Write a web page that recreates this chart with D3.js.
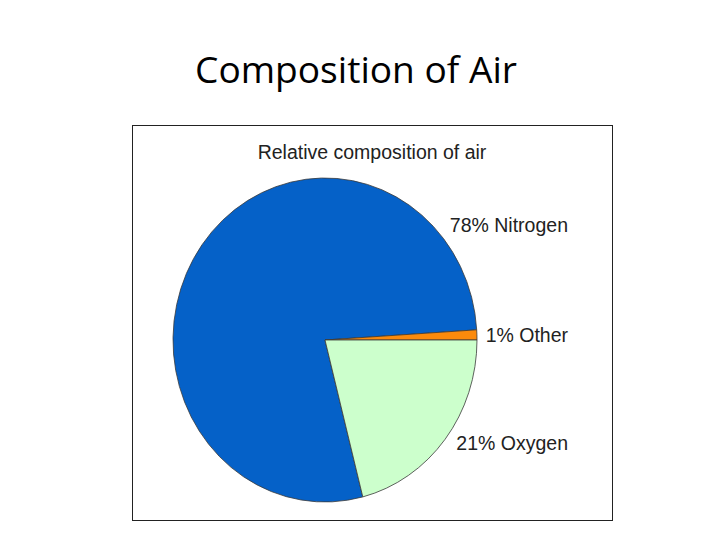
<!DOCTYPE html>
<html>
<head>
<meta charset="utf-8">
<script src="https://cdn.jsdelivr.net/npm/d3@7"></script>
<style>
  html, body { margin: 0; padding: 0; background: #fff; }
</style>
</head>
<body>
<div id="chart"></div>
<script>
// data
var gases = ["Nitrogen", "Other", "Oxygen"];
var percents = [78, 1, 21];
var colors = ["#0561c8", "#fb8a0c", "#ccffcc"];

var W = 720, H = 540;

var svg = d3.select("#chart")
    .append("svg")
    .attr("width", W)
    .attr("height", H);

// slide title
svg.append("text")
    .attr("x", 356)
    .attr("y", 83)
    .attr("text-anchor", "middle")
    .attr("textLength", 322)
    .attr("lengthAdjust", "spacingAndGlyphs")
    .style("font-family", "'Open Sans', 'Noto Sans', sans-serif")
    .style("font-size", "37px")
    .style("fill", "#000")
    .text("Composition of Air");

// chart frame
var box = { x: 132.5, y: 125.5, w: 480, h: 395 };
svg.append("rect")
    .attr("x", box.x)
    .attr("y", box.y)
    .attr("width", box.w)
    .attr("height", box.h)
    .style("fill", "#fff")
    .style("stroke", "#222")
    .style("stroke-width", 1);

svg.append("text")
    .attr("x", 372)
    .attr("y", 159)
    .attr("text-anchor", "middle")
    .style("font-family", "'Liberation Sans', Arial, sans-serif")
    .style("font-size", "19.5px")
    .style("fill", "#222")
    .text("Relative composition of air");

// pie (slightly taller than wide, like the picture)
var rx = 152, ry = 162;
var cx = 325, cy = 340;

var data = gases.map(function (g, i) {
    return { name: g, value: percents[i], color: colors[i] };
});

// oxygen starts at 3 o'clock and runs clockwise
var total = d3.sum(percents);
var startDeg = 90 - 360 * (percents[0] + percents[1]) / total;

var pie = d3.pie()
    .sort(null)
    .value(function (d) { return d.value; })
    .startAngle(startDeg * Math.PI / 180)
    .endAngle((startDeg + 360) * Math.PI / 180);

var arc = d3.arc().innerRadius(0).outerRadius(rx);

var g = svg.append("g")
    .attr("transform", "translate(" + cx + "," + cy + ") scale(1," + (ry / rx) + ")");

g.selectAll(".slice")
    .data(pie(data))
    .enter().append("path")
    .attr("class", "slice")
    .attr("d", arc)
    .style("fill", function (d) { return d.data.color; })
    .style("stroke", "#3a3a3a")
    .style("stroke-width", 0.8)
    .style("vector-effect", "non-scaling-stroke");

// labels on the right
var labelY = { "Nitrogen": 232, "Other": 342, "Oxygen": 450 };
svg.selectAll(".label")
    .data(data)
    .enter().append("text")
    .attr("class", "label")
    .attr("x", 568)
    .attr("y", function (d) { return labelY[d.name]; })
    .attr("text-anchor", "end")
    .style("font-family", "'Liberation Sans', Arial, sans-serif")
    .style("font-size", "19.5px")
    .style("fill", "#222")
    .text(function (d) { return d.value + "% " + d.name; });
</script>
</body>
</html>
